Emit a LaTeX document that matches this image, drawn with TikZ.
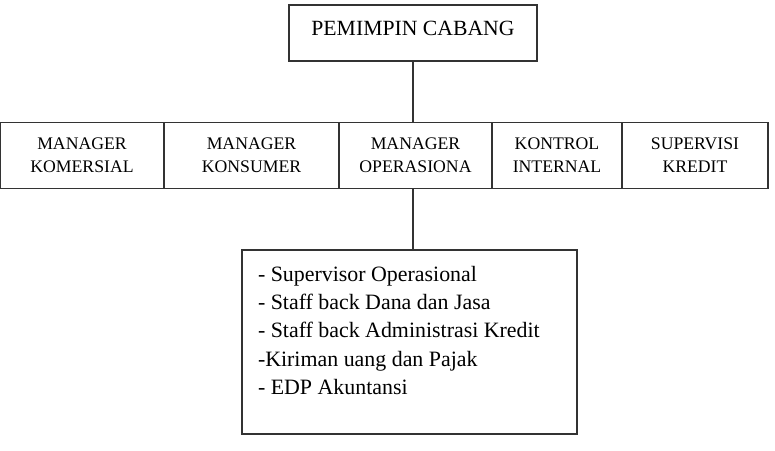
\documentclass[tikz,border=0pt]{standalone}
\usepackage{fontspec}
\setmainfont{Liberation Serif}
\usetikzlibrary{positioning}

\begin{document}
\begin{tikzpicture}[
  x=1pt, y=-1pt,
  line width=1.2pt,
  draw=black!80,
  head box/.style={draw=black!80,minimum width=248pt,minimum height=56pt,
    inner sep=0pt,text depth=10pt,font=\fontsize{21.7}{26}\selectfont},
  unit box/.style={draw=black!80,minimum height=66pt,inner sep=0pt,align=center,
    font=\fontsize{17.7}{23}\selectfont},
  list box/.style={draw=black!80,minimum width=335pt,minimum height=184pt},
  list text/.style={inner sep=0pt,align=left,font=\fontsize{21.9}{28.3}\selectfont},
]
  \useasboundingbox (0,0) rectangle (775,450);

  % Top of the chart
  \node[head box] (head) at (413,33) {PEMIMPIN CABANG};

  % Row of units, node names: unit_1, unit_2, ...
  \foreach \l/\r/\t [count=\i] in {
    0/164/{MANAGER\\KOMERSIAL},
    164/339/{MANAGER\\KONSUMER},
    339/492/{MANAGER\\OPERASIONA},
    492/622/{KONTROL\\INTERNAL},
    622/768/{SUPERVISI\\KREDIT}%
  } {
    \node[unit box, minimum width={(\r-\l)*1pt}] (unit_\i)
      at ({(\l+\r)/2},155.5) {\t};
  }

  % Staff under the operations manager
  \node[list box] (staff) at (409.5,342) {};
  \node[list text, anchor=north west] (duties)
    at ([xshift=16pt,yshift=-16pt]staff.north west)
    {- Supervisor Operasional\\
     - Staff back Dana dan Jasa\\
     - Staff back Administrasi Kredit\\
     -Kiriman uang dan Pajak\\
     - EDP Akuntansi};

  % Connectors
  \draw (head) -- (head |- unit_3.north);
  \draw (head |- unit_3.south) -- (head |- staff.north);

\end{tikzpicture}
\end{document}
